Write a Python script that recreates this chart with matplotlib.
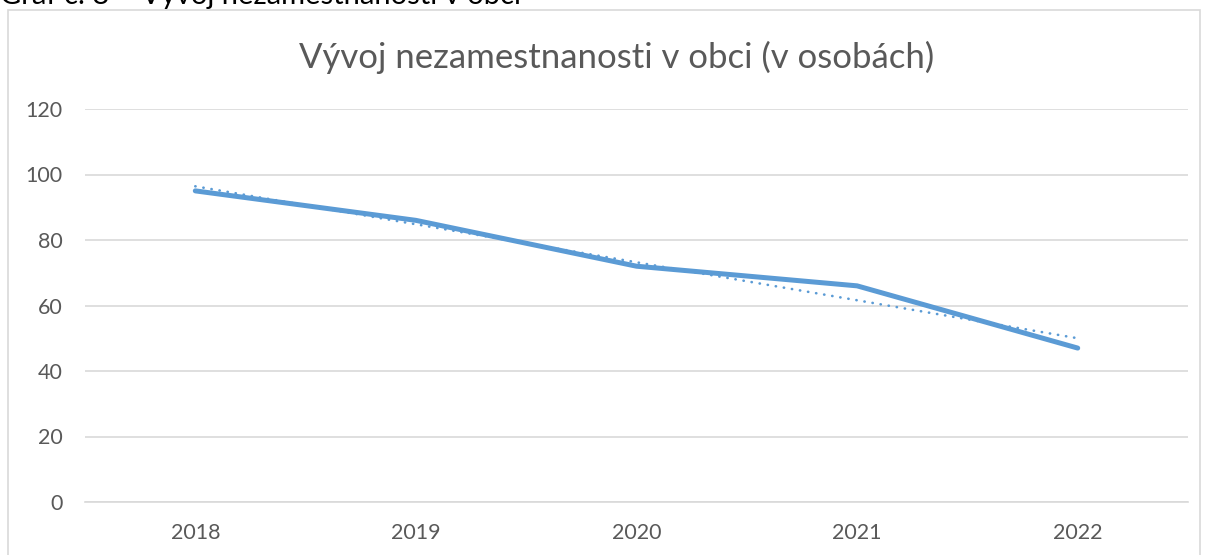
import matplotlib.pyplot as plt
from matplotlib.patches import Rectangle

# data
years = ["2018", "2019", "2020", "2021", "2022"]
unemployed = [95, 86, 72, 66, 47]
trend = [96.4, 84.8, 73.2, 61.6, 50.0]  # linear trendline as shown
y_ticks = [0, 20, 40, 60, 80, 100, 120]

blue = "#5B9BD5"
grey_text = "#595959"
grid_col = "#D9D9D9"

plt.rcParams["font.family"] = ["Lato", "DejaVu Sans"]

W, H = 1208, 555
fig = plt.figure(figsize=(W / 100, H / 100), dpi=100)

# chart area border (bottom runs off the image)
fig.patches.append(Rectangle((8 / W, -0.05), (1200 - 8) / W, 1 + 0.05 - 10 / H,
                             transform=fig.transFigure, fill=False,
                             edgecolor=grid_col, linewidth=1.2))

# caption above the chart, mostly cut off by the image top
fig.text(0.0, 1 - 4 / H, "Graf č. 8 – Vývoj nezamestnanosti v obci",
         fontsize=21, color="black", va="baseline", ha="left")

ax = fig.add_axes([85 / W, 53 / H, (1188 - 85) / W, (502 - 109) / H])
x = list(range(len(years)))
ax.plot(x, unemployed, color=blue, linewidth=3.6, solid_capstyle="round",
        solid_joinstyle="round", zorder=3)
ax.plot(x, trend, color=blue, linewidth=1.9, linestyle=(0, (0.1, 3.0)),
        dash_capstyle="round", zorder=3)

ax.set_xlim(-0.5, len(years) - 0.5)
ax.set_ylim(0, 120)
ax.set_yticks(y_ticks)
ax.set_xticks(x)
ax.set_xticklabels(years)
ax.yaxis.grid(True, color=grid_col, linewidth=1.2)
ax.set_axisbelow(True)
for s in ["top", "right", "left"]:
    ax.spines[s].set_visible(False)
ax.spines["bottom"].set_color(grid_col)
ax.spines["bottom"].set_linewidth(1.2)
ax.tick_params(axis="both", length=0, colors=grey_text, labelsize=15.5)
ax.tick_params(axis="y", pad=16)
ax.tick_params(axis="x", pad=15)

fig.text(617 / W, 1 - 57 / H, "Vývoj nezamestnanosti v obci (v osobách)",
         fontsize=25, color=grey_text, ha="center", va="center")

fig.savefig("out.png", dpi=100)
